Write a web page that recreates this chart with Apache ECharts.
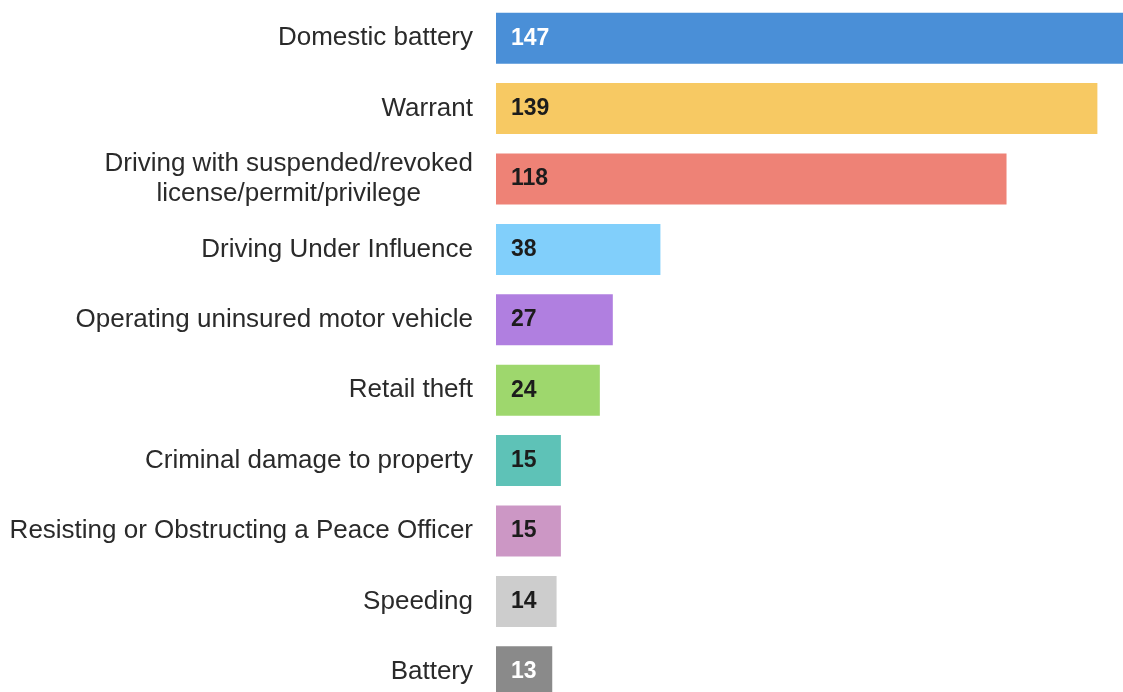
<!DOCTYPE html>
<html>
<head>
<meta charset="utf-8">
<script src="https://cdn.jsdelivr.net/npm/echarts@6/dist/echarts.min.js"></script>
<style>
  html, body { margin: 0; padding: 0; background: #fff; }
  #chart { width: 1123px; height: 692px; }
</style>
</head>
<body>
<div id="chart"></div>
<script>
// offence categories, top to bottom
var categories = [
    'Domestic battery',
    'Warrant',
    'Driving with suspended/revoked\nlicense/permit/privilege',
    'Driving Under Influence',
    'Operating uninsured motor vehicle',
    'Retail theft',
    'Criminal damage to property',
    'Resisting or Obstructing a Peace Officer',
    'Speeding',
    'Battery'
];
var counts = [147, 139, 118, 38, 27, 24, 15, 15, 14, 13];
var barColors = ['#4a8fd7', '#f7c963', '#ee8276', '#81cffb', '#b07fe0', '#9ed76d', '#5ec2b7', '#cc97c5', '#cdcdcd', '#8a8a8a'];
var valueColors = ['#ffffff', '#1c1c1c', '#1c1c1c', '#1c1c1c', '#1c1c1c', '#1c1c1c', '#1c1c1c', '#1c1c1c', '#1c1c1c', '#ffffff'];

var chart = echarts.init(document.getElementById('chart'));

var barData = counts.map(function (v, i) {
    return {
        value: v,
        itemStyle: { color: barColors[i] },
        label: { color: valueColors[i] }
    };
});

var labelFont = "'Liberation Sans', Arial, sans-serif";

var option = {
    backgroundColor: '#ffffff',
    animation: false,
    // the first bar runs off the right edge and the last one off the bottom
    grid: {
        left: 496,
        top: 3,
        width: 636,
        height: 704,
        outerBoundsMode: 'none',
        containLabel: false
    },
    xAxis: {
        type: 'value',
        min: 0,
        max: 147,
        show: false
    },
    yAxis: {
        type: 'category',
        inverse: true,
        data: categories,
        axisLine: { show: false },
        axisTick: { show: false },
        splitLine: { show: false },
        axisLabel: {
            margin: 23,
            fontFamily: labelFont,
            fontSize: 26,
            color: '#2a2a2a',
            lineHeight: 30,
            // keep multi-line labels centred on each other
            formatter: function (val) {
                return val.split('\n').map(function (s) { return '{c|' + s + '}'; }).join('\n');
            },
            rich: {
                c: {
                    align: 'center',
                    fontFamily: labelFont,
                    fontSize: 26,
                    color: '#2a2a2a',
                    lineHeight: 30
                }
            }
        }
    },
    series: [
        {
            type: 'bar',
            data: barData,
            barCategoryGap: '27.5%',
            clip: false,
            label: {
                show: true,
                position: 'insideLeft',
                distance: 15,
                fontFamily: labelFont,
                fontWeight: 'bold',
                fontSize: 23
            }
        }
    ]
};

chart.setOption(option);
window.addEventListener('resize', function () {
    chart.resize();
});
</script>
</body>
</html>
